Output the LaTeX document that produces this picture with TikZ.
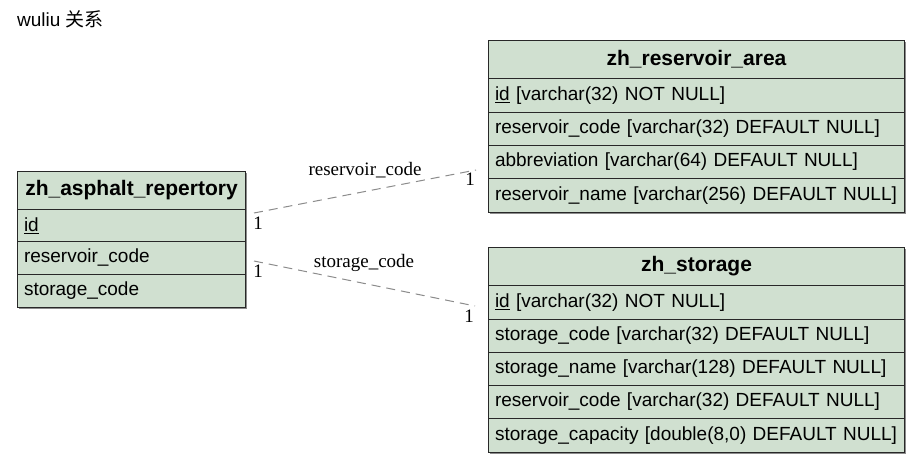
\documentclass[tikz,border=0pt]{standalone}
\usepackage{fontspec}
\setmainfont{Liberation Serif}
\newfontfamily\arial{Liberation Sans}
\newfontfamily\cjk{Noto Sans CJK SC}
\definecolor{tblfill}{RGB}{208,224,208}
\definecolor{tbledge}{RGB}{40,40,40}
\definecolor{conn}{RGB}{140,140,140}
\tikzset{
 cell/.style={draw=tbledge, fill=tblfill, line width=1pt, anchor=north west,
   inner xsep=6.5pt, inner ysep=0pt, align=left,
   font=\arial\fontsize{19}{22}\selectfont},
 hdr/.style={cell, align=center, font=\arial\bfseries\fontsize{21}{24}\selectfont},
 lw/.style={text width=215pt},
 rw/.style={text width=403pt},
 shadowbox/.style={fill=black!45, draw=none},
 rel/.style={draw=conn, line width=1pt, dash pattern=on 9pt off 6pt},
 rellabel/.style={font=\fontsize{19}{22}\selectfont, inner sep=0pt},
}
\begin{document}
\begin{tikzpicture}[x=1pt,y=-1pt]
\useasboundingbox (0,0) rectangle (920,462);
\fill[white] (0,0) rectangle (920,462);

\node[anchor=base west, inner sep=0pt, font=\arial\fontsize{19}{22}\selectfont] (title) at (17,27) {wuliu {\cjk 关系}};

% shadows
\fill[shadowbox] (19,173) rectangle (247,309);
\fill[shadowbox] (490,42) rectangle (906,214);
\fill[shadowbox] (490,249) rectangle (906,454);

% zh_asphalt_repertory
\node[hdr, lw, minimum height=38pt] (ar) at (17,171) {zh\_asphalt\_repertory};
\node[cell, lw, minimum height=32pt] (ar1) at (17,209) {\underline{id}};
\node[cell, lw, minimum height=33pt] (ar2) at (17,241) {reservoir\_code};
\node[cell, lw, minimum height=33pt] (ar3) at (17,274) {storage\_code};

% zh_reservoir_area
\node[hdr, rw, minimum height=38pt] (ra) at (488,40) {zh\_reservoir\_area};
\node[cell, rw, minimum height=34pt] (ra1) at (488,78) {\underline{id} [varchar(32) NOT NULL]};
\node[cell, rw, minimum height=33pt] (ra2) at (488,112) {reservoir\_code [varchar(32) DEFAULT NULL]};
\node[cell, rw, minimum height=33pt] (ra3) at (488,145) {abbreviation [varchar(64) DEFAULT NULL]};
\node[cell, rw, minimum height=34pt] (ra4) at (488,178) {reservoir\_name [varchar(256) DEFAULT NULL]};

% zh_storage
\node[hdr, rw, minimum height=38pt] (st) at (488,247) {zh\_storage};
\node[cell, rw, minimum height=34pt] (st1) at (488,285) {\underline{id} [varchar(32) NOT NULL]};
\node[cell, rw, minimum height=33pt] (st2) at (488,319) {storage\_code [varchar(32) DEFAULT NULL]};
\node[cell, rw, minimum height=33pt] (st3) at (488,352) {storage\_name [varchar(128) DEFAULT NULL]};
\node[cell, rw, minimum height=33pt] (st4) at (488,385) {reservoir\_code [varchar(32) DEFAULT NULL]};
\node[cell, rw, minimum height=34pt] (st5) at (488,418) {storage\_capacity [double(8,0) DEFAULT NULL]};

% connectors
\coordinate (c1a) at (254,213);
\coordinate (c1b) at (476,170);
\coordinate (c2a) at (254,261);
\coordinate (c2b) at (475,306);
\draw[rel] (c1a) -- (c1b);
\draw[rel] (c2a) -- (c2b);

\node[rellabel] (l1) at (365,170) {reservoir\_code};
\node[rellabel] (l2) at (364,263) {storage\_code};
\node[rellabel] (m1a) at (258,223) {1};
\node[rellabel] (m1b) at (470,179) {1};
\node[rellabel] (m2a) at (258,271) {1};
\node[rellabel] (m2b) at (469,316) {1};
\end{tikzpicture}
\end{document}
